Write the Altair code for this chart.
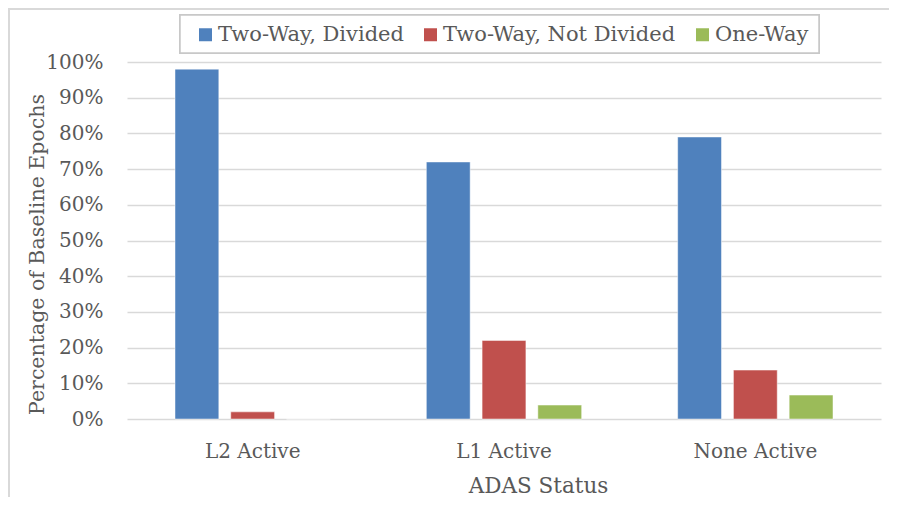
import altair as alt
import pandas as pd

categories = ["L2 Active", "L1 Active", "None Active"]
series = ["Two-Way, Divided", "Two-Way, Not Divided", "One-Way"]
two_way_divided = [0.98, 0.72, 0.79]
two_way_not_divided = [0.02, 0.22, 0.137]
one_way = [0.0, 0.039, 0.067]
colors = ["#4F81BD", "#C0504D", "#9BBB59"]

rows = []
for i, c in enumerate(categories):
    for s, vals in zip(series, [two_way_divided, two_way_not_divided, one_way]):
        rows.append({"status": c, "road": s, "value": vals[i]})
df = pd.DataFrame(rows)

W, H = 754, 357
FONT = "DejaVu Serif"
TXT = "#595959"

bars = alt.Chart(df).mark_bar(stroke="#ffffff", strokeWidth=0.8, strokeOpacity=0.6).encode(
    x=alt.X("status:N", sort=categories,
            scale=alt.Scale(paddingInner=0.382, paddingOuter=0.191),
            axis=alt.Axis(title="ADAS Status", labelAngle=0, ticks=False, tickSize=0,
                          domain=False, labelPadding=38, labelBaseline="alphabetic",
                          labelFontSize=20, labelFont=FONT, labelColor=TXT,
                          titleFontSize=21.5, titleFont=FONT, titleColor=TXT,
                          titleFontWeight="normal", titleX=411, titleY=73,
                          titleAlign="center", titleBaseline="alphabetic")),
    xOffset=alt.XOffset("road:N", sort=series,
                        scale=alt.Scale(paddingInner=0.214, paddingOuter=0)),
    y=alt.Y("value:Q", scale=alt.Scale(domain=[0, 1]),
            axis=alt.Axis(title="Percentage of Baseline Epochs", format=".0%",
                          values=[i / 10 for i in range(11)], ticks=False, tickSize=0,
                          domain=False, grid=True, gridColor="#D9D9D9", gridWidth=1.5,
                          labelPadding=24, labelFontSize=20, labelFont=FONT, labelColor=TXT,
                          titleFontSize=20.5, titleFont=FONT, titleColor=TXT,
                          titleFontWeight="normal", titleX=-84, titleY=192,
                          titleAlign="center", titleBaseline="alphabetic")),
    color=alt.Color("road:N", sort=series,
                    scale=alt.Scale(domain=series, range=colors),
                    legend=alt.Legend(title=None, orient="none", direction="horizontal",
                                      legendX=68, legendY=-38, symbolType="square",
                                      symbolSize=169, symbolStrokeWidth=0,
                                      labelFontSize=21, labelFont=FONT, labelColor=TXT,
                                      labelOffset=2, columnPadding=16, labelLimit=400,
                                      padding=0)),
)

legend_box = alt.Chart(df).mark_rect(fill="#ffffff", stroke="#C8C8C8", strokeWidth=1.5).encode(
    x=alt.value(53), x2=alt.value(692), y=alt.value(-47), y2=alt.value(-9))

top_border = alt.Chart(df).mark_rule(color="#D9D9D9", strokeWidth=1.5).encode(
    x=alt.value(-119), x2=alt.value(W + 8), y=alt.value(-53))
left_border = alt.Chart(df).mark_rule(color="#D9D9D9", strokeWidth=1.5).encode(
    x=alt.value(-118), y=alt.value(-54), y2=alt.value(H + 78))

chart = alt.layer(top_border, left_border, bars, legend_box).properties(
    width=W, height=H,
    autosize=alt.AutoSizeParams(type="none"),
    padding={"left": 119, "top": 54, "right": 8, "bottom": 78},
).configure_view(stroke=None)

chart.save("out.html", embed_options={"renderer": "svg", "actions": False})
